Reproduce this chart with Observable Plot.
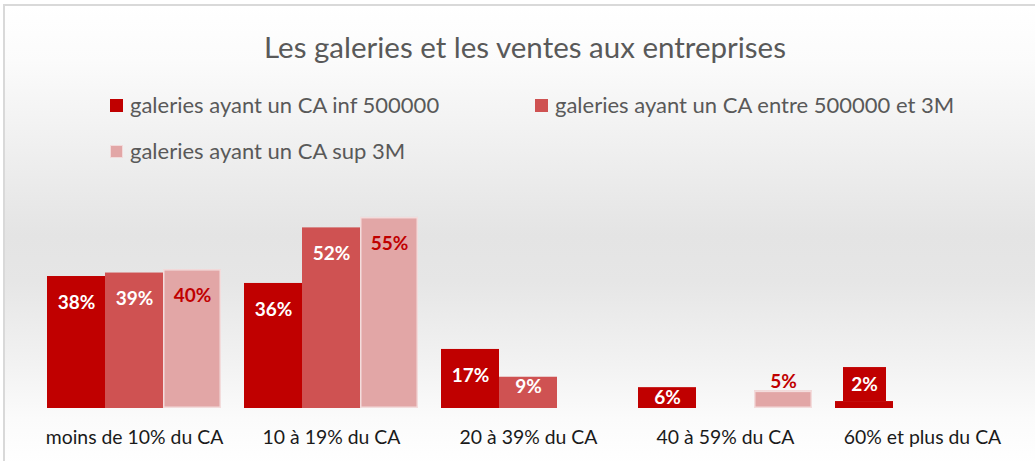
<!DOCTYPE html>
<html>
<head>
<meta charset="utf-8">
<script src="https://cdn.jsdelivr.net/npm/d3@7"></script>
<script src="https://cdn.jsdelivr.net/npm/@observablehq/plot@0.6"></script>
<style>
  html, body { margin: 0; padding: 0; background: #ffffff; }
  #wrap { position: relative; width: 1035px; height: 461px; overflow: hidden; font-family: Lato, "Open Sans", sans-serif; }
  #frame { position: absolute; left: 3px; top: 4px; right: -4px; bottom: -4px;
    border-top: 2px solid #d9d9d9; border-left: 2px solid #d9d9d9;
    background: linear-gradient(to bottom, #ffffff 0%, #fbfbfb 12%, #f0f0f0 30%, #e4e4e4 50%, #e6e6e6 60%, #f2f2f2 78%, #fbfbfb 90%, #ffffff 100%); }
  #title { position: absolute; left: 0; width: 1050px; top: 29px; line-height: 36px; text-align: center; font-size: 29.5px; color: #595959; }
  .leg { position: absolute; font-size: 22px; line-height: 26px; color: #595959; display: flex; align-items: center; white-space: nowrap; }
  .sw { width: 13px; height: 13px; margin-right: 7px; box-sizing: border-box; }
  #chart { position: absolute; left: 0; top: 170px; }
</style>
</head>
<body>
<div id="wrap">
  <div id="frame"></div>
  <div id="title"></div>
  <div id="legend"></div>
  <div id="chart"></div>
</div>
<script>
const chartTitle = "Les galeries et les ventes aux entreprises";
const categories = ["moins de 10% du CA", "10 à 19% du CA", "20 à 39% du CA", "40 à 59% du CA", "60% et plus du CA"];
const series = ["galeries ayant un CA inf 500000", "galeries ayant un CA entre 500000 et 3M", "galeries ayant un CA sup 3M"];
const valuesInf = [38, 36, 17, 6, 2];
const valuesEntre = [39, 52, 9, null, null];
const valuesSup = [40, 55, null, 5, null];
const colors = ["#c00000", "#cf5252", "#e2a6a6"];

const seriesValues = [valuesInf, valuesEntre, valuesSup];
const data = [];
categories.forEach((c, i) => series.forEach((s, j) => {
  const v = seriesValues[j][i];
  if (v != null) data.push({cat: c, series: s, value: v});
}));

document.getElementById("title").textContent = chartTitle;
const legendPos = [[110, 92], [535, 92], [110, 138]];
const legend = document.getElementById("legend");
series.forEach((s, j) => {
  const el = document.createElement("div");
  el.className = "leg";
  el.style.left = legendPos[j][0] + "px";
  el.style.top = legendPos[j][1] + "px";
  const sw = document.createElement("span");
  sw.className = "sw";
  sw.style.background = colors[j];
  if (j === 2) sw.style.border = "1px solid #f2dada";
  el.appendChild(sw);
  const t = document.createElement("span");
  t.textContent = s;
  el.appendChild(t);
  legend.appendChild(el);
});

const pct = d => d.value + "%";
const isS = k => d => d.series === series[k];
const common = {fx: "cat", x: "series", y: "value", text: pct, fontWeight: "bold", fontSize: 19, lineAnchor: "middle"};

const chart = Plot.plot({
  width: 1035,
  height: 291,
  marginLeft: 47,
  marginRight: 26,
  marginTop: 29.6,
  marginBottom: 53,
  fx: {domain: categories, paddingInner: 0.1168, paddingOuter: 0, label: null},
  x: {domain: series, axis: null, padding: 0},
  y: {domain: [0, 60], axis: null},
  color: {domain: series, range: colors},
  style: {background: "transparent", fontFamily: "Lato, 'Open Sans', sans-serif", fontSize: "16px", color: "#1a1a1a"},
  marks: [
    Plot.axisFx({anchor: "bottom", tickSize: 0, tickPadding: 22, fontSize: 19.4, fill: "#1a1a1a", label: null}),
    Plot.barY(data, {fx: "cat", x: "series", y: "value", fill: "series"}),
    Plot.barY(data.filter(isS(2)), {fx: "cat", x: "series", y: "value", fill: "none", stroke: "#f3dcdc", strokeWidth: 1.5, inset: 0.75}),
    // inside-end labels
    Plot.text(data.filter(d => d.value >= 15 && d.series !== series[2]), {...common, dy: 26, fill: "white"}),
    Plot.text(data.filter(d => d.value >= 15 && d.series === series[2]), {...common, dy: 26, fill: "#c00000"}),
    // small bars: label near top inside
    Plot.text(data.filter(d => d.value < 15 && d.value >= 5 && d.series !== series[2]), {...common, dy: 10, fill: "white"}),
    // small bars of third series: label above
    Plot.text(data.filter(d => d.value < 15 && d.series === series[2]), {...common, dy: -9, fill: "#c00000"}),
    // tiny bar: label in filled box above
    Plot.barY(data.filter(d => d.value < 5 && d.series !== series[2]), {fx: "cat", x: "series", y1: "value", y2: "value", insetTop: -34, insetLeft: 8, insetRight: 7, fill: "#c00000"}),
    Plot.text(data.filter(d => d.value < 5 && d.series !== series[2]), {...common, dy: -17, fill: "white"})
  ]
});
document.getElementById("chart").appendChild(chart);
</script>
</body>
</html>
